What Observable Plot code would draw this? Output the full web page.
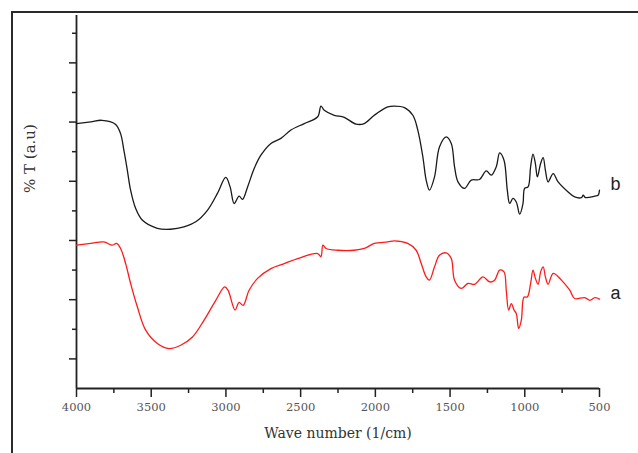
<!DOCTYPE html>
<html>
<head>
<meta charset="utf-8">
<script src="https://cdn.jsdelivr.net/npm/d3@7"></script>
<script src="https://cdn.jsdelivr.net/npm/@observablehq/plot@0.6"></script>
<style>
  html, body { margin: 0; padding: 0; background: #fff; overflow: hidden; }
  #wrap { position: relative; width: 638px; height: 453px; }
  #chart { position: absolute; left: 0; top: 0; }
  #frame { position: absolute; left: 11px; top: 11px; width: 700px; height: 520px;
           border: 2px solid #2a2a2a; box-sizing: border-box; pointer-events: none; }
</style>
</head>
<body>
<div id="wrap"><div id="chart"></div><div id="frame"></div></div>
<script>
// Spectrum b (black)
const wnB = [4000,3905,3830,3740,3705,3683,3660,3638,3604,3560,3459,3370,3281,3202,3124,3057,3001,2972,2945,2912,2889,2855,2811,2766,2699,2632,2565,2476,2386,2364,2342,2275,2208,2129,2074,2007,1917,1873,1805,1749,1716,1682,1660,1638,1604,1571,1526,1492,1470,1447,1403,1358,1303,1258,1224,1191,1168,1139,1117,1101,1079,1057,1034,1012,1001,978,961,945,929,916,894,877,862,844,810,777,710,666,621,609,594,531,509,500];
const tB  = [8.95,9.01,9.06,8.93,8.61,8.05,7.38,6.70,6.08,5.69,5.41,5.38,5.46,5.63,6.02,6.59,7.13,6.81,6.25,6.50,6.39,6.81,7.43,7.88,8.28,8.45,8.73,8.95,9.18,9.54,9.40,9.23,9.16,8.93,8.95,9.23,9.51,9.54,9.49,9.23,8.73,7.82,7.04,6.70,7.15,8.16,8.50,8.28,7.49,6.98,6.76,7.04,7.06,7.35,7.21,7.49,7.96,7.71,6.70,6.25,6.42,6.30,5.89,6.25,6.76,6.81,7.49,7.92,7.60,7.15,7.60,7.80,7.37,6.98,7.26,6.98,6.64,6.47,6.45,6.53,6.45,6.50,6.53,6.70];
// Spectrum a (red)
const wnA = [4000,3905,3817,3761,3732,3705,3671,3638,3593,3537,3459,3381,3303,3224,3146,3068,3008,2986,2939,2912,2885,2845,2788,2699,2610,2520,2386,2364,2351,2330,2252,2141,2074,2007,1917,1873,1783,1727,1693,1660,1638,1604,1571,1526,1492,1470,1425,1380,1336,1280,1235,1202,1168,1139,1124,1108,1090,1072,1057,1041,1023,1005,983,961,945,929,911,894,877,862,844,810,755,699,666,599,565,531,500];
const tA  = [4.84,4.90,4.95,4.84,4.90,4.73,4.22,3.55,2.76,1.97,1.52,1.35,1.46,1.74,2.31,2.98,3.43,3.32,2.65,2.91,2.81,3.32,3.72,4.05,4.22,4.39,4.56,4.45,4.84,4.73,4.67,4.67,4.73,4.90,4.95,4.99,4.90,4.67,4.22,3.77,3.66,4.11,4.50,4.58,4.39,3.66,3.38,3.55,3.52,3.77,3.60,3.66,4.00,3.94,3.32,2.65,2.87,2.65,2.53,2.03,2.31,3.09,3.09,3.55,4.00,3.72,3.52,3.94,4.11,3.77,3.52,3.89,3.66,3.32,3.04,3.07,2.98,3.07,3.02];

const seriesNames = ["b", "a"];
const seriesColors = ["#1a1a1a", "#ff1a1a"];
const xMajorTicks = [4000,3500,3000,2500,2000,1500,1000,500];
const xMinorTicks = [3750,3250,2750,2250,1750,1250,750];
const yMajorTicks = [1,3,5,7,9,11];
const yMinorTicks = [2,4,6,8,10,12];
const xTitle = "Wave number (1/cm)";
const yTitle = "% T (a.u)";

const dataB = wnB.map((w, i) => ({wn: w, t: tB[i], s: seriesNames[0]}));
const dataA = wnA.map((w, i) => ({wn: w, t: tA[i], s: seriesNames[1]}));
const ends = [dataB[dataB.length - 1], dataA[dataA.length - 1]];

const serif = "'DejaVu Serif', serif";

const plot = Plot.plot({
  width: 638,
  height: 453,
  marginLeft: 76,
  marginRight: 39,
  marginTop: 15,
  marginBottom: 65,
  style: {background: "transparent", fontFamily: serif, overflow: "visible"},
  x: {domain: [4000, 500]},
  y: {domain: [0, 12.6]},
  marks: [
    Plot.axisX({ticks: xMajorTicks, tickSize: 9, tickPadding: 5, tickFormat: d => String(d),
      fontSize: 11.5, color: "#555", stroke: "#222", strokeWidth: 1.5, label: null}),
    Plot.axisX({ticks: xMinorTicks, tickSize: 5, tickFormat: () => "", stroke: "#222", strokeWidth: 1.5, label: null}),
    Plot.axisY({ticks: yMajorTicks, tickSize: 7, tickFormat: () => "", stroke: "#222", strokeWidth: 1.5, label: null}),
    Plot.axisY({ticks: yMinorTicks, tickSize: 4, tickFormat: () => "", stroke: "#222", strokeWidth: 1.5, label: null}),
    Plot.ruleY([0], {stroke: "#222", strokeWidth: 1.8}),
    Plot.ruleX([4000], {stroke: "#222", strokeWidth: 1.8}),
    Plot.line(dataB, {x: "wn", y: "t", stroke: seriesColors[0], strokeWidth: 1.3, curve: "catmull-rom"}),
    Plot.line(dataA, {x: "wn", y: "t", stroke: seriesColors[1], strokeWidth: 1.3, curve: "catmull-rom"}),
    Plot.text(ends, {x: "wn", y: "t", text: "s", dx: 11, dy: -6, textAnchor: "start",
      fontSize: 18, fontFamily: "'Liberation Sans', Arial, sans-serif", fill: "#222"}),
    Plot.text([xTitle], {frameAnchor: "bottom", dy: 49, fontSize: 14, fill: "#333", fontFamily: serif}),
    Plot.text([yTitle], {frameAnchor: "left", rotate: -90, dx: -46, dy: -9, fontSize: 15, fill: "#333", fontFamily: serif})
  ]
});
document.getElementById("chart").appendChild(plot);
</script>
</body>
</html>
